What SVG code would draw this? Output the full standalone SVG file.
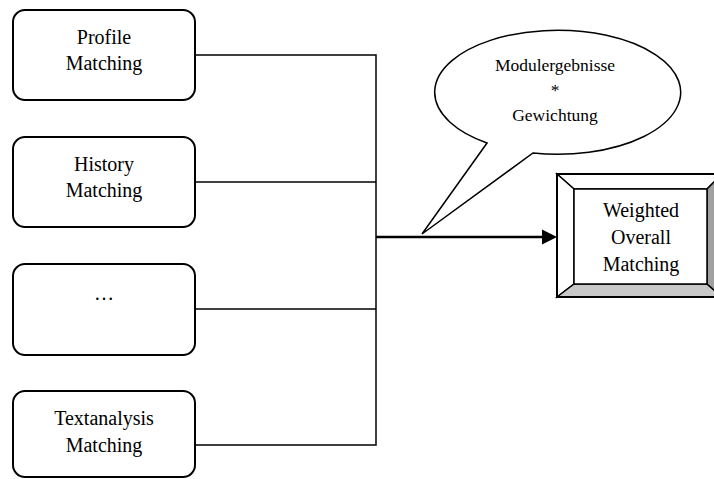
<svg xmlns="http://www.w3.org/2000/svg" width="714" height="479" viewBox="0 0 714 479">
  <style>
    .box { fill: #fff; stroke: #000; stroke-width: 2; }
    .label { font-family: "Liberation Serif", "Times New Roman", serif; font-size: 20px; fill: #000; text-anchor: middle; }
    .note { font-family: "Liberation Serif", "Times New Roman", serif; font-size: 17.5px; fill: #000; text-anchor: middle; }
    .wire { fill: none; stroke: #000; stroke-width: 1.5; }
    .main { fill: none; stroke: #000; stroke-width: 2.5; }
    .head { fill: #000; stroke: none; }
    .bevel { stroke: #000; stroke-width: 1.5; stroke-linejoin: miter; }
  </style>

  <!-- connectors -->
  <g id="connectors">
    <polyline class="wire" points="195,55 376,55 376,445 195,445"/>
    <line class="wire" x1="195" y1="182" x2="376" y2="182"/>
    <line class="wire" x1="195" y1="309" x2="376" y2="309"/>
    <line class="main" x1="376" y1="237" x2="545" y2="237"/>
    <polygon class="head" points="542,229.5 557,237 542,244.5"/>
  </g>

  <!-- input modules -->
  <g id="profile">
    <rect class="box" x="13" y="10" width="182" height="90" rx="12"/>
    <text class="label" x="104" y="44">Profile</text>
    <text class="label" x="104" y="70">Matching</text>
  </g>
  <g id="history">
    <rect class="box" x="13" y="137" width="182" height="90" rx="12"/>
    <text class="label" x="104" y="171">History</text>
    <text class="label" x="104" y="197">Matching</text>
  </g>
  <g id="more">
    <rect class="box" x="13" y="264" width="182" height="91" rx="12"/>
    <text class="label" x="104" y="300">…</text>
  </g>
  <g id="textanalysis">
    <rect class="box" x="13" y="391" width="182" height="86" rx="12"/>
    <text class="label" x="104" y="425">Textanalysis</text>
    <text class="label" x="104" y="452">Matching</text>
  </g>

  <!-- callout -->
  <g id="callout">
    <path d="M487,143 A123,62 0 1 1 533,153 L422,234 Z" fill="#fff" stroke="#000" stroke-width="1.5" stroke-linejoin="miter"/>
    <text class="note" x="555" y="71">Modulergebnisse</text>
    <text class="note" x="555" y="96">*</text>
    <text class="note" x="555" y="121">Gewichtung</text>
  </g>

  <!-- result -->
  <g id="weighted">
    <polygon class="bevel" points="557,174 722,174 707,189 574,189" fill="#fff"/>
    <polygon class="bevel" points="557,174 574,189 574,284 557,297" fill="#fff"/>
    <polygon class="bevel" points="557,297 574,284 707,284 722,297" fill="#c8c8c8"/>
    <polygon class="bevel" points="722,174 707,189 707,284 722,297" fill="#a0a0a0"/>
    <rect x="574" y="189" width="133" height="95" fill="#fff" stroke="#000" stroke-width="1.5"/>
    <rect x="557" y="174" width="165" height="123" fill="none" stroke="#000" stroke-width="2"/>
    <text class="label" x="641" y="217">Weighted</text>
    <text class="label" x="641" y="244">Overall</text>
    <text class="label" x="641" y="271">Matching</text>
  </g>
</svg>
